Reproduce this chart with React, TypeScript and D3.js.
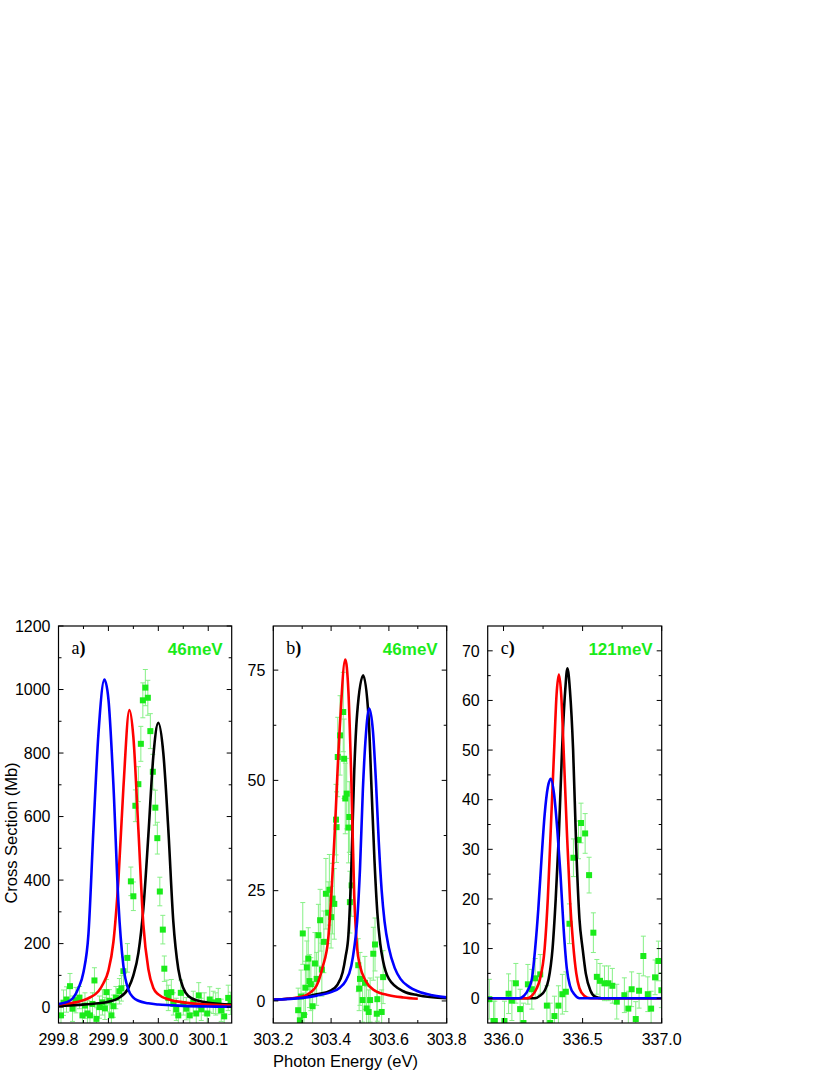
import React from 'react';
import * as d3 from 'd3';

type P = [number, number];
type E = [number, number, number];

// ---------- Panel a data ----------
const aBlue: P[] = [
  [299.80, 10], [299.81, 13], [299.82, 18], [299.83, 30], [299.84, 60], [299.85, 110],
  [299.86, 230], [299.87, 560], [299.88, 860], [299.892, 1031], [299.90, 970], [299.91, 700],
  [299.92, 330], [299.93, 130], [299.94, 55], [299.95, 30], [299.96, 20], [299.98, 12],
  [300.00, 8], [300.05, 4], [300.10, 2], [300.147, 1],
];
const aRed: P[] = [
  [299.80, 8], [299.82, 12], [299.84, 17], [299.86, 28], [299.88, 50], [299.89, 75],
  [299.90, 115], [299.91, 205], [299.92, 400], [299.93, 690], [299.942, 935], [299.95, 850],
  [299.96, 560], [299.97, 260], [299.98, 120], [299.99, 60], [300.00, 40], [300.02, 25],
  [300.05, 15], [300.10, 8], [300.147, 5],
];
const aBlack: P[] = [
  [299.80, 4], [299.84, 7], [299.88, 12], [299.90, 17], [299.92, 28], [299.94, 60],
  [299.95, 100], [299.96, 170], [299.97, 310], [299.98, 540], [299.99, 790], [300.00, 895],
  [300.01, 800], [300.02, 560], [300.03, 270], [300.04, 120], [300.05, 60], [300.06, 35],
  [300.08, 20], [300.10, 14], [300.147, 8],
];
const aData: E[] = [
  [299.805, -26, 35], [299.810, 14, 40], [299.816, 24, 40], [299.823, 66, 40], [299.828, -5, 40],
  [299.835, 22, 40], [299.842, 30, 35], [299.848, -26, 35], [299.853, 5, 40], [299.858, -20, 40],
  [299.863, -26, 35], [299.868, 10, 35], [299.872, 84, 40], [299.876, -37, 35], [299.882, 0, 35],
  [299.888, 15, 40], [299.893, -4, 35], [299.896, 47, 40], [299.902, 20, 35], [299.906, -26, 35],
  [299.910, 3, 35], [299.915, 30, 35], [299.922, 50, 40], [299.926, 59, 40], [299.930, 113, 45],
  [299.938, 155, 45], [299.945, 396, 45], [299.950, 349, 45], [299.954, 634, 50], [299.960, 702, 55],
  [299.965, 829, 55], [299.969, 966, 55], [299.974, 1006, 57], [299.979, 974, 55], [299.984, 869, 55],
  [299.989, 741, 55], [299.994, 628, 55], [299.998, 532, 50], [300.003, 364, 45], [300.009, 244, 45],
  [300.012, 121, 40], [300.017, 45, 40], [300.020, 29, 40], [300.026, 47, 40], [300.030, 10, 35],
  [300.036, -7, 35], [300.040, -26, 35], [300.045, 45, 40], [300.050, 10, 35], [300.056, -5, 35],
  [300.063, -26, 35], [300.070, 15, 35], [300.076, -20, 35], [300.081, 37, 40], [300.086, -7, 35],
  [300.092, 10, 35], [300.098, -20, 35], [300.103, 24, 40], [300.110, 15, 35], [300.115, 10, 35],
  [300.120, 19, 40], [300.126, -10, 35], [300.132, -29, 35], [300.140, 29, 40], [300.145, 12, 35],
];
const aXTicks = [299.8, 299.9, 300.0, 300.1];
const aXMinor = [299.85, 299.95, 300.05];
const aYTicks = [0, 200, 400, 600, 800, 1000, 1200];
const aYMinor = [100, 300, 500, 700, 900, 1100];

// ---------- Panel b data ----------
const bRed: P[] = [
  [303.20, 0.3], [303.25, 0.5], [303.30, 1.0], [303.33, 2.0], [303.35, 3.5], [303.37, 7.5],
  [303.39, 14], [303.41, 35], [303.43, 62], [303.449, 77.4], [303.46, 70], [303.47, 50],
  [303.48, 24], [303.49, 12], [303.50, 8], [303.52, 4.5], [303.55, 2.4], [303.60, 1.3],
  [303.65, 0.8], [303.70, 0.5],
];
const bBlack: P[] = [
  [303.20, 0.3], [303.25, 0.5], [303.30, 0.8], [303.35, 1.5], [303.40, 2.4], [303.42, 3.5],
  [303.44, 6.5], [303.45, 10], [303.46, 15], [303.47, 30], [303.48, 52], [303.49, 65],
  [303.511, 73.8], [303.53, 64], [303.54, 48], [303.55, 32], [303.56, 20], [303.57, 13],
  [303.58, 9], [303.60, 5], [303.65, 2.2], [303.70, 1.3], [303.80, 0.6],
];
const bBlue: P[] = [
  [303.20, 0.3], [303.30, 0.7], [303.35, 1.2], [303.40, 2.0], [303.43, 3.0], [303.45, 4.5],
  [303.47, 8], [303.48, 12], [303.49, 18], [303.50, 30], [303.51, 48], [303.52, 60],
  [303.532, 66.3], [303.545, 61], [303.555, 50], [303.565, 36], [303.575, 25], [303.585, 18],
  [303.60, 12], [303.62, 7.5], [303.64, 5], [303.67, 3.2], [303.70, 2.2], [303.75, 1.3],
  [303.80, 0.8],
];
const bData: E[] = [
  [303.286, -2.1, 5], [303.292, -4.4, 5], [303.296, 1.0, 6], [303.302, 15.3, 7], [303.306, -3.2, 5],
  [303.311, 3.0, 6], [303.316, 7.6, 6], [303.321, 9.6, 7], [303.325, 4.5, 6], [303.330, 3.8, 6],
  [303.336, -1.2, 5], [303.344, 8.5, 7], [303.350, 5.0, 6], [303.356, 14.9, 7], [303.362, 18.3, 7],
  [303.368, 7.1, 6], [303.375, 13.4, 7], [303.382, 24.3, 8], [303.390, 20.0, 7], [303.394, 25.2, 8],
  [303.400, 19.0, 7], [303.405, 23.2, 8], [303.411, 22.0, 8], [303.417, 41.1, 8], [303.419, 39.4, 8],
  [303.423, 55.3, 9], [303.431, 60.2, 9], [303.442, 65.5, 9], [303.445, 54.9, 9], [303.449, 45.9, 8],
  [303.454, 47.0, 8], [303.460, 39.3, 8], [303.463, 41.7, 8], [303.465, 22.4, 7], [303.471, 26.2, 7],
  [303.494, 8.1, 6], [303.497, 2.8, 5], [303.500, 5.0, 6], [303.509, 0.2, 5], [303.517, 4.1, 6],
  [303.523, -1.7, 5], [303.530, -2.5, 5], [303.535, 0.2, 5], [303.546, 10.7, 6], [303.552, 12.8, 6],
  [303.558, -2.9, 5], [303.560, 0.4, 5], [303.575, -2.5, 5], [303.580, 5.4, 6],
];
const bXTicks = [303.2, 303.4, 303.6, 303.8];
const bXMinor = [303.3, 303.5, 303.7];
const bYTicks = [0, 25, 50, 75];
const bYMinor = [12.5, 37.5, 62.5];

// ---------- Panel c data ----------
const cBlue: P[] = [
  [335.90, 0], [336.10, 0], [336.13, 0.5], [336.16, 2], [336.18, 4], [336.20, 10], [336.22, 18],
  [336.24, 28], [336.26, 37], [336.28, 42.5], [336.299, 44.2], [336.32, 41], [336.34, 34],
  [336.36, 25], [336.38, 14], [336.40, 6], [336.42, 2.5], [336.45, 0.7], [336.48, 0], [337.00, 0],
];
const cRed: P[] = [
  [335.90, 0], [336.15, 0], [336.18, 0.5], [336.21, 2], [336.23, 3.8], [336.26, 10], [336.28, 20],
  [336.30, 35], [336.32, 50], [336.335, 61], [336.35, 65.2], [336.365, 61], [336.38, 50],
  [336.40, 34], [336.42, 20], [336.44, 11], [336.46, 5], [336.48, 2], [336.51, 0.5], [336.55, 0],
  [337.00, 0],
];
const cBlack: P[] = [
  [335.90, 0], [336.20, 0], [336.23, 0.5], [336.26, 1.5], [336.285, 3.8], [336.31, 10], [336.33, 20],
  [336.35, 33], [336.37, 50], [336.39, 62], [336.404, 66.5], [336.42, 62], [336.44, 50],
  [336.46, 30], [336.48, 16], [336.50, 10], [336.52, 5], [336.55, 1.5], [336.58, 0.3], [336.62, 0],
  [337.00, 0],
];
const cData: E[] = [
  [335.910, -0.2, 4], [335.937, -4.6, 4], [335.945, -4.6, 4], [336.006, -4.6, 4], [336.032, 0.9, 4],
  [336.053, -0.5, 4], [336.078, 3.0, 4], [336.105, -2.2, 4], [336.126, -5.0, 4], [336.154, 2.8, 4],
  [336.179, 1.8, 4], [336.200, 4.0, 4], [336.232, 4.8, 4], [336.274, -1.5, 4], [336.295, -5.0, 4],
  [336.322, -3.6, 4], [336.347, -1.5, 4], [336.372, 0.8, 4], [336.394, 1.3, 4], [336.417, 15.0, 4],
  [336.442, 28.3, 3.8], [336.474, 31.9, 3.8], [336.490, 35.3, 4], [336.516, 33.2, 4], [336.541, 24.8, 3.6],
  [336.568, 13.2, 4], [336.590, 4.3, 3.5], [336.610, 3.5, 3.5], [336.638, 3.0, 3.5], [336.663, 3.0, 3.5],
  [336.688, 2.5, 3.5], [336.716, -0.7, 3.5], [336.764, 0.6, 3.5], [336.789, -2.1, 3.5], [336.810, 1.8, 3.5],
  [336.836, -4.2, 3.5], [336.857, 1.5, 3.5], [336.884, 8.5, 4], [336.912, 0.8, 3.5], [336.933, -2.1, 3.5],
  [336.958, 4.2, 3.5], [336.979, 7.5, 4], [336.998, 1.6, 3.5],
];
const cXTicks = [336.0, 336.5, 337.0];
const cXMinor = [336.25, 336.75];
const cYTicks = [0, 10, 20, 30, 40, 50, 60, 70];
const cYMinor = [5, 15, 25, 35, 45, 55, 65];

const GREEN = '#1aeb1a';
const GREEN_ERR = '#86f086';
const TOP = 626;
const BOTTOM = 1023;

interface Cfg {
  id: string;
  label: string;
  note: string;
  left: number;
  right: number;
  xDomain: [number, number];
  yDomain: [number, number];
  xTicks: number[];
  xMinor: number[];
  yTicks: number[];
  yMinor: number[];
  xFmt: (v: number) => string;
  yFmt: (v: number) => string;
  curves: { data: P[]; color: string }[];
  points: E[];
}

const panels: Cfg[] = [
  {
    id: 'a', label: 'a', note: '46meV', left: 58.5, right: 231.7,
    xDomain: [299.8, 300.147], yDomain: [-50, 1200],
    xTicks: aXTicks, xMinor: aXMinor, yTicks: aYTicks, yMinor: aYMinor,
    xFmt: (v) => v.toFixed(1), yFmt: (v) => String(v),
    curves: [{ data: aBlack, color: '#000000' }, { data: aRed, color: '#ff0000' }, { data: aBlue, color: '#0000ff' }],
    points: aData,
  },
  {
    id: 'b', label: 'b', note: '46meV', left: 273.3, right: 446.7,
    xDomain: [303.2, 303.8], yDomain: [-5, 85],
    xTicks: bXTicks, xMinor: bXMinor, yTicks: bYTicks, yMinor: bYMinor,
    xFmt: (v) => v.toFixed(1), yFmt: (v) => String(v),
    curves: [{ data: bBlack, color: '#000000' }, { data: bRed, color: '#ff0000' }, { data: bBlue, color: '#0000ff' }],
    points: bData,
  },
  {
    id: 'c', label: 'c', note: '121meV', left: 487.7, right: 661.7,
    xDomain: [335.9, 337.0], yDomain: [-5, 75],
    xTicks: cXTicks, xMinor: cXMinor, yTicks: cYTicks, yMinor: cYMinor,
    xFmt: (v) => v.toFixed(1), yFmt: (v) => String(v),
    curves: [{ data: cBlack, color: '#000000' }, { data: cRed, color: '#ff0000' }, { data: cBlue, color: '#0000ff' }],
    points: cData,
  },
];

const SANS = '"Liberation Sans", Arial, sans-serif';
const SERIF = '"Liberation Serif", "Times New Roman", serif';

function Panel({ cfg }: { cfg: Cfg }) {
  const x = d3.scaleLinear().domain(cfg.xDomain).range([cfg.left, cfg.right]);
  const y = d3.scaleLinear().domain(cfg.yDomain).range([BOTTOM, TOP]);
  const line = d3.line<P>().x((d) => x(d[0])).y((d) => y(d[1])).curve(d3.curveMonotoneX);
  const clipId = 'clip-' + cfg.id;
  const maj = 5;
  const min = 3;
  const sq = 6;
  const cap = 2.5;
  return (
    <g>
      <defs>
        <clipPath id={clipId}>
          <rect x={cfg.left} y={TOP} width={cfg.right - cfg.left} height={BOTTOM - TOP} />
        </clipPath>
      </defs>
      <g clipPath={`url(#${clipId})`}>
        {cfg.points.map((d, i) => (
          <g key={'e' + i} stroke={GREEN_ERR} strokeWidth={1}>
            <line x1={x(d[0])} x2={x(d[0])} y1={y(d[1] - d[2])} y2={y(d[1] + d[2])} />
            <line x1={x(d[0]) - cap} x2={x(d[0]) + cap} y1={y(d[1] - d[2])} y2={y(d[1] - d[2])} />
            <line x1={x(d[0]) - cap} x2={x(d[0]) + cap} y1={y(d[1] + d[2])} y2={y(d[1] + d[2])} />
          </g>
        ))}
        {cfg.points.map((d, i) => (
          <rect key={'p' + i} x={x(d[0]) - sq / 2} y={y(d[1]) - sq / 2} width={sq} height={sq} fill={GREEN} />
        ))}
        {cfg.curves.map((c, i) => (
          <path key={'c' + i} d={line(c.data) || ''} fill="none" stroke={c.color} strokeWidth={2.6} strokeLinejoin="round" />
        ))}
      </g>
      <rect x={cfg.left} y={TOP} width={cfg.right - cfg.left} height={BOTTOM - TOP} fill="none" stroke="#000" strokeWidth={1.2} />
      <g stroke="#000" strokeWidth={1}>
        {cfg.xTicks.map((v, i) => (
          <g key={'xt' + i}>
            <line x1={x(v)} x2={x(v)} y1={BOTTOM} y2={BOTTOM - maj} />
            <line x1={x(v)} x2={x(v)} y1={TOP} y2={TOP + maj} />
          </g>
        ))}
        {cfg.xMinor.map((v, i) => (
          <g key={'xm' + i}>
            <line x1={x(v)} x2={x(v)} y1={BOTTOM} y2={BOTTOM - min} />
            <line x1={x(v)} x2={x(v)} y1={TOP} y2={TOP + min} />
          </g>
        ))}
        {cfg.yTicks.map((v, i) => (
          <g key={'yt' + i}>
            <line x1={cfg.left} x2={cfg.left + maj} y1={y(v)} y2={y(v)} />
            <line x1={cfg.right} x2={cfg.right - maj} y1={y(v)} y2={y(v)} />
          </g>
        ))}
        {cfg.yMinor.map((v, i) => (
          <g key={'ym' + i}>
            <line x1={cfg.left} x2={cfg.left + min} y1={y(v)} y2={y(v)} />
            <line x1={cfg.right} x2={cfg.right - min} y1={y(v)} y2={y(v)} />
          </g>
        ))}
      </g>
      <g fontFamily={SANS} fontSize={16} fill="#000">
        {cfg.xTicks.map((v, i) => (
          <text key={'xl' + i} x={x(v)} y={1045} textAnchor="middle">{cfg.xFmt(v)}</text>
        ))}
        {cfg.yTicks.map((v, i) => (
          <text key={'yl' + i} x={cfg.left - 8} y={y(v)} dy="0.36em" textAnchor="end">{cfg.yFmt(v)}</text>
        ))}
      </g>
      <text x={cfg.left + 13} y={654} fontFamily={SERIF} fontSize={18} fill="#000">
        {cfg.label}
        <tspan fontWeight="bold">)</tspan>
      </text>
      <text x={cfg.right - 9} y={655} textAnchor="end" fontFamily={SANS} fontWeight="bold" fontSize={17} fill={GREEN}>
        {cfg.note}
      </text>
    </g>
  );
}

export default function App() {
  return (
    <svg
      width={830}
      height={1075}
      viewBox="0 0 830 1075"
      style={{ position: 'absolute', left: 0, top: 0, display: 'block', background: '#fff' }}
    >
      <rect x={0} y={0} width={830} height={1075} fill="#fff" />
      {panels.map((p) => (
        <Panel key={p.id} cfg={p} />
      ))}
      <text
        transform="translate(17,833) rotate(-90)"
        textAnchor="middle"
        fontFamily={SANS}
        fontSize={16.5}
        fill="#000"
      >
        Cross Section (Mb)
      </text>
      <text x={345.5} y={1067} textAnchor="middle" fontFamily={SANS} fontSize={16.5} fill="#000">
        Photon Energy (eV)
      </text>
    </svg>
  );
}
